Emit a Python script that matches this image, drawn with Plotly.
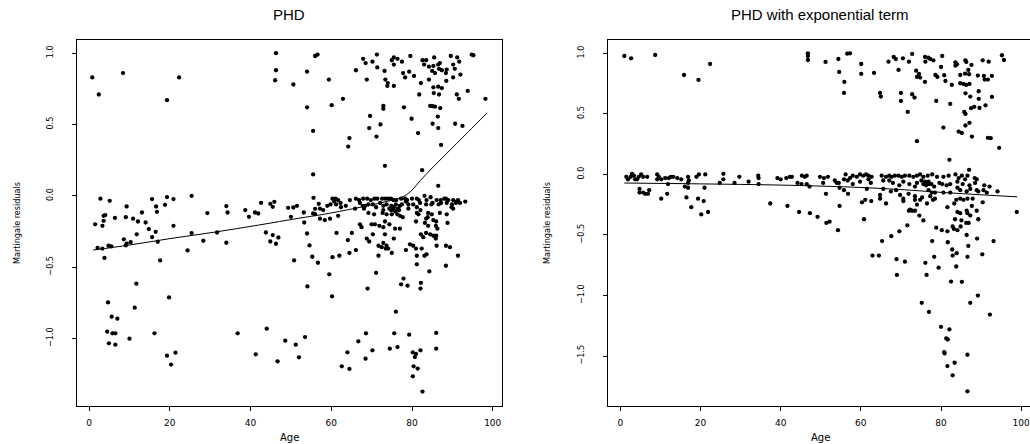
import plotly.graph_objects as go

# ---------------- Panel 1: PHD ----------------
phd_age = [
    # upper cloud
    0.8, 2.4, 8.4, 22.3, 19.3, 46.3, 46.3, 46.1, 50.6, 54.0, 56.0, 56.6, 54.0, 55.5, 55.5,
    71.3, 94.8, 95.2, 67.9, 75.5, 76.4, 75.0, 77.5, 79.6, 82.6, 83.5, 85.5, 89.6, 91.2,
    68.5, 70.2, 86.9, 75.5, 83.0, 84.2, 85.3, 86.5, 91.7, 90.2, 71.4, 73.2, 66.1, 85.0,
    85.7, 86.7, 87.4, 88.6, 88.4, 90.6, 77.8, 79.3, 78.3, 80.5, 92.0, 90.2, 88.5, 59.4,
    68.8, 73.4, 74.0, 75.5, 73.9, 82.2, 84.2, 85.3, 86.5, 87.4, 81.8, 85.4, 86.7, 91.1,
    93.8, 91.6, 98.2, 62.9, 60.1, 72.9, 72.9, 78.0, 84.5, 85.1, 85.7, 87.0, 69.6, 79.9,
    86.4, 72.2, 69.4, 85.1, 86.5, 90.7, 92.5, 81.5, 64.5, 71.2, 64.2, 87.2, 73.3, 82.5, 86.5,
    # band, younger ages
    1.5, 2.1, 2.8, 3.3, 3.6, 4.0, 3.6, 3.3, 3.8, 4.8, 5.1, 5.5, 6.4, 8.6, 9.3, 9.1, 9.1,
    9.3, 10.3, 10.9, 11.8, 12.1, 13.1, 14.0, 14.8, 15.6, 15.6, 16.5, 16.6, 16.8, 17.0,
    17.6, 18.8, 19.3, 20.9, 20.9, 24.4, 25.4, 25.4, 28.3, 29.3, 31.7, 34.0, 34.3, 34.0,
    38.7, 39.6, 41.1, 41.9, 42.6, 43.8, 44.9, 45.9, 45.5, 44.9, 45.5, 46.3, 46.9, 49.3,
    50.0, 50.6, 51.5, 50.8, 53.3, 53.2, 54.0, 54.6, 55.3, 55.5, 55.6, 56.0, 56.0, 56.9, 56.7,
    # band, older ages
    60.3, 61.1, 61.7, 60.7, 62.3, 64.6, 66.1, 66.9, 67.9, 68.9, 69.8, 70.7, 71.4, 72.6,
    73.4, 74.1, 74.8, 75.4, 76.1, 77.3, 78.3, 78.8, 80.0, 81.2, 81.7, 83.1, 83.6, 84.6,
    86.1, 87.1, 88.0, 88.4, 89.0, 90.2, 91.0, 91.4, 93.2,
    57.2, 58.0, 59.0, 59.8, 61.2, 62.4, 63.6, 65.9, 67.1, 67.8, 68.4, 68.1, 69.2, 70.3,
    71.1, 72.1, 72.9, 73.7, 74.4, 74.9, 75.5, 76.0, 76.5, 77.0, 77.5, 78.5, 79.1, 80.3,
    81.2, 82.0, 83.5, 84.8, 85.1, 86.6, 87.2, 88.6, 89.9, 89.8, 90.2, 90.9, 91.9, 75.9,
    76.8, 75.5, 74.8, 72.9, 79.1, 82.1,
    57.2, 58.4, 59.7, 61.7, 69.2, 70.6, 72.7, 73.7, 75.0, 76.4, 77.0, 77.7, 81.2, 81.6,
    84.0, 84.9, 83.9, 83.5, 85.3, 86.0, 86.9, 88.6,
    67.1, 67.5, 70.0, 70.8, 71.9, 72.9, 73.3, 74.4, 75.8, 77.0, 81.0, 83.2, 84.0, 85.9,
    86.3, 88.8,
    61.3, 65.1, 68.8, 69.4, 70.3, 73.3, 75.5, 82.2, 82.8, 83.5, 84.5, 85.3, 85.9, 86.0,
    64.1, 66.1, 71.7, 72.5, 72.9, 73.7, 74.1, 73.5, 79.5, 80.3, 81.0, 82.4, 86.1, 88.4, 89.4,
    60.3, 62.0, 64.5, 71.7, 75.0, 78.5, 81.2, 83.1, 83.6, 91.4,
    81.2, 88.4, 59.5, 71.1, 84.3, 77.9, 77.3, 78.9, 82.2, 82.1, 69.0,
    # lower cloud
    60.2, 54.1, 76.0, 75.6, 79.3, 68.6, 66.7, 70.2, 74.5, 76.4, 80.2, 80.7, 81.0, 82.1,
    80.4, 81.4, 80.2, 82.6, 86.0, 86.0, 68.5, 64.0, 62.6, 64.5, 53.5, 51.2, 52.0, 48.6,
    46.7, 44.0, 41.3, 36.8, 21.4, 19.3, 20.3, 19.8, 16.2, 11.7, 11.3, 10.0, 4.7, 5.6,
    7.0, 4.5, 5.8, 6.5, 4.9, 6.5,
]
phd_res = [
    0.83, 0.71, 0.86, 0.83, 0.67, 1.0, 0.88, 0.81, 0.78, 0.87, 0.98, 0.99, 0.62, 0.455, 0.15,
    0.99, 0.99, 0.985, 0.96, 0.97, 0.96, 0.95, 0.94, 0.98, 0.95, 0.95, 0.97, 0.98, 0.97,
    0.93, 0.94, 0.93, 0.92, 0.92, 0.905, 0.91, 0.92, 0.94, 0.92, 0.90, 0.875, 0.88, 0.875,
    0.86, 0.89, 0.88, 0.885, 0.86, 0.89, 0.86, 0.87, 0.83, 0.84, 0.85, 0.83, 0.805, 0.815,
    0.815, 0.815, 0.79, 0.77, 0.77, 0.79, 0.815, 0.76, 0.765, 0.755, 0.71, 0.72, 0.71, 0.71,
    0.735, 0.68, 0.68, 0.68, 0.635, 0.63, 0.61, 0.62, 0.63, 0.628, 0.625, 0.615, 0.56, 0.54,
    0.555, 0.50, 0.475, 0.505, 0.475, 0.505, 0.49, 0.44, 0.405, 0.415, 0.345, 0.357, 0.21, 0.18, 0.07,
    -0.20, -0.365, -0.02, -0.21, -0.14, -0.135, -0.175, -0.37, -0.435, -0.35, -0.035, -0.355,
    -0.155, -0.305, -0.075, -0.15, -0.348, -0.336, -0.325, -0.16, -0.27, -0.18, -0.117,
    -0.187, -0.233, -0.023, -0.289, -0.252, -0.075, -0.112, -0.322, -0.453, -0.063, -0.009,
    -0.023, -0.21, -0.383, 0.0, -0.261, -0.315, -0.121, -0.257, -0.072, -0.117, -0.329,
    -0.10, -0.147, -0.117, -0.124, -0.049, -0.257, -0.056, -0.042, -0.077, -0.32, -0.275,
    -0.336, -0.292, -0.084, -0.147, -0.082, -0.07, -0.453, -0.187, -0.117, -0.264, -0.348,
    -0.427, -0.124, -0.014, -0.091, -0.128, -0.056, -0.469,
    -0.02, -0.02, -0.03, -0.04, -0.05, -0.03, -0.02, -0.03, -0.02, -0.02, -0.03, -0.02, -0.02,
    -0.02, -0.02, -0.02, -0.02, -0.03, -0.03, -0.02, -0.02, -0.03, -0.02, -0.02, -0.03, 0.0,
    -0.03, -0.01, -0.03, -0.03, -0.02, -0.02, -0.03, -0.03, -0.04, -0.03, -0.04,
    -0.09, -0.10, -0.07, -0.06, -0.06, -0.08, -0.07, -0.09, -0.05, -0.07, -0.07, -0.09,
    -0.06, -0.06, -0.08, -0.05, -0.07, -0.06, -0.09, -0.07, -0.08, -0.06, -0.09, -0.07,
    -0.06, -0.04, -0.06, -0.06, -0.08, -0.05, -0.06, -0.06, -0.05, -0.06, -0.05, -0.05,
    -0.06, -0.08, -0.09, -0.05, -0.05, -0.11, -0.10, -0.10, -0.10, -0.10, -0.09, -0.10,
    -0.16, -0.17, -0.16, -0.14, -0.12, -0.13, -0.12, -0.13, -0.13, -0.13, -0.14, -0.15,
    -0.12, -0.13, -0.12, -0.13, -0.15, -0.16, -0.17, -0.18, -0.12, -0.13,
    -0.20, -0.22, -0.20, -0.20, -0.21, -0.22, -0.18, -0.20, -0.23, -0.23, -0.18, -0.19,
    -0.21, -0.21, -0.23, -0.19,
    -0.26, -0.26, -0.30, -0.32, -0.27, -0.27, -0.30, -0.27, -0.29, -0.26, -0.27, -0.28,
    -0.30, -0.28,
    -0.31, -0.38, -0.35, -0.36, -0.33, -0.35, -0.37, -0.37, -0.34, -0.35, -0.37, -0.37,
    -0.35, -0.35, -0.36,
    -0.43, -0.42, -0.40, -0.42, -0.40, -0.38, -0.42, -0.42, -0.41, -0.42,
    -0.48, -0.49, -0.55, -0.54, -0.53, -0.58, -0.62, -0.63, -0.61, -0.65, -0.65,
    -0.705, -0.635, -0.812, -0.964, -0.973, -0.964, -1.02, -1.083, -1.071, -1.06, -1.097,
    -1.13, -1.108, -1.083, -1.195, -1.211, -1.265, -1.372, -0.961, -1.071, -1.141, -1.097,
    -1.195, -1.213, -0.99, -1.043, -1.132, -1.015, -1.16, -0.931, -1.111, -0.964, -1.099,
    -1.12, -1.183, -0.712, -0.964, -0.616, -0.784, -1.001, -0.747, -0.847, -0.861, -0.952,
    -0.964, -0.964, -1.034, -1.043,
]
phd_smooth_age = [1, 10, 20, 31, 42, 52, 58, 66, 74, 78, 80, 82, 85, 88, 91, 94, 98.5]
phd_smooth_res = [-0.38, -0.345, -0.30, -0.255, -0.205, -0.157, -0.13, -0.087, -0.038,
                  -0.003, 0.04, 0.105, 0.195, 0.28, 0.365, 0.45, 0.578]

# ---------------- Panel 2: PHD with exponential term ----------------
exp_age = [
    # upper cloud
    1.0, 2.7, 8.7, 15.9, 19.5, 22.4, 46.8, 46.8, 46.8, 51.2, 54.4, 54.6, 56.6, 57.3, 55.9,
    55.8, 60.1, 60.1, 63.3, 64.8, 65.0,
    66.9, 68.2, 68.7, 70.5, 72.0, 72.8, 69.4, 73.8, 74.5, 74.0, 74.8, 76.0, 76.0, 76.8,
    77.3, 78.1, 76.1, 80.3, 80.0, 78.6, 79.1, 80.8, 81.1, 82.7, 83.6, 84.0, 83.6, 86.1,
    86.3, 87.6, 84.8, 86.0, 87.0, 86.8, 84.8, 85.6, 86.3, 87.1, 89.2, 90.7, 92.7, 90.9,
    91.7, 90.4, 91.9, 95.2, 95.7, 89.4, 86.1, 87.3, 89.4, 92.7, 82.3, 78.8, 70.0, 70.0,
    72.8, 73.4, 71.7, 85.8, 86.1, 87.5, 88.3, 89.6, 91.1, 86.1, 87.1, 80.6, 84.4, 85.2,
    87.7, 91.7, 92.4, 94.5, 74.0, 82.1, 87.0,
    # band, younger ages
    1.5, 1.9, 2.6, 2.9, 3.4, 3.7, 4.2, 4.6, 5.2, 5.7, 6.7, 9.2, 9.6, 9.2, 10.2, 11.2, 12.1,
    12.6, 13.2, 14.2, 15.2, 16.9, 17.1, 19.0, 19.6, 21.2, 24.8, 25.7, 25.7, 28.5, 29.7,
    32.0, 34.4, 34.5, 34.5, 39.2, 40.0, 41.4, 42.3, 42.8, 44.2, 45.3, 46.0, 46.5, 45.2,
    46.5, 47.2, 49.8, 50.8, 51.8, 50.6, 53.5, 54.0, 54.5, 55.8, 56.2, 56.7, 11.9, 16.9,
    4.8, 4.8, 5.7, 6.2, 6.9, 7.2, 11.7, 10.2, 16.1, 16.9, 21.0, 16.5, 19.4, 20.8, 17.7,
    21.9, 20.2, 37.4, 41.7, 44.6, 47.3, 49.2, 51.4, 52.2, 54.3, 51.3, 54.7, 55.8, 56.8, 54.7,
    # band, older ages
    57.3, 58.0, 59.0, 59.8, 60.6, 61.3, 61.9, 62.7, 65.2, 66.3, 67.1, 67.7, 68.5, 69.4,
    70.2, 71.0, 72.1, 73.1, 74.0, 74.8, 75.6, 76.7, 77.8, 79.0, 80.6, 81.9, 83.6, 85.2,
    86.6, 88.4, 88.9, 84.4, 86.0,
    58.0, 59.8, 61.9, 62.5, 65.6, 67.1, 68.0, 69.6, 70.6, 72.1, 73.5, 74.0, 75.1, 75.6,
    76.1, 76.5, 76.9, 77.6, 78.3, 79.6, 80.3, 81.4, 82.3, 84.1, 85.4, 87.1, 88.5, 90.8,
    92.1, 90.6, 91.4, 87.3, 89.3, 84.1, 76.0, 76.6, 77.1, 76.3,
    61.5, 65.6, 67.5, 68.8, 64.8, 69.8, 70.6, 71.9, 73.5, 75.3, 76.9, 77.7, 77.3, 78.5,
    80.6, 82.3, 84.8, 86.4, 88.9, 94.1,
    60.3, 61.1, 62.6, 64.8, 66.3, 70.6, 73.5, 74.0, 74.8, 76.5, 78.0, 78.5, 83.8, 84.8,
    85.6, 83.3, 86.6, 87.9, 87.7, 90.4, 81.6,
    72.3, 72.8, 72.0, 73.5, 84.1, 84.8, 86.4, 86.6, 88.9, 98.9, 60.8, 74.6, 75.6, 83.5,
    85.1, 87.3, 89.3, 86.9, 86.3,
    71.6, 69.6, 78.8, 80.2, 81.6, 82.9, 83.2, 84.9, 84.1,
    67.6, 65.3, 77.8, 81.7, 86.4, 89.0, 93.1, 82.8, 83.9, 86.8, 90.3, 62.9, 64.5, 68.9,
    71.0, 76.1, 78.3, 82.9, 86.6, 79.4, 83.8,
    # lower cloud
    69.0, 76.4, 82.5, 85.2, 75.2, 77.0, 80.0, 82.1, 81.3, 81.7, 80.8, 80.9, 81.6, 83.4,
    82.9, 86.6, 86.6, 87.3, 89.2, 92.2,
]
exp_res = [
    0.978, 0.959, 0.986, 0.821, 0.780, 0.912, 1.0, 0.978, 0.945, 0.929, 0.953, 0.846, 0.997,
    1.0, 0.764, 0.673, 0.912, 0.83, 0.838, 0.673, 0.643,
    0.931, 0.97, 0.953, 0.959, 0.931, 0.995, 0.863, 0.857, 0.83, 0.805, 0.80, 0.764, 0.97,
    0.964, 0.953, 0.942, 0.931, 0.978, 0.887, 0.821, 0.805, 0.819, 0.772, 0.739, 0.926,
    0.909, 0.898, 0.942, 0.929, 0.904, 0.821, 0.832, 0.827, 0.863, 0.753, 0.747, 0.739,
    0.747, 0.816, 0.813, 0.813, 0.783, 0.783, 0.942, 0.931, 0.984, 0.945, 0.687, 0.67,
    0.643, 0.624, 0.640, 0.582, 0.607, 0.673, 0.607, 0.662, 0.635, 0.516, 0.516, 0.50,
    0.547, 0.558, 0.549, 0.571, 0.404, 0.426, 0.387, 0.354, 0.343, 0.313, 0.302, 0.299,
    0.22, 0.275, 0.121, 0.038,
    -0.02, -0.04, -0.02, 0.005, -0.01, -0.04, -0.04, -0.02, 0.0, -0.02, -0.02, 0.0, -0.02,
    -0.04, -0.04, -0.03, -0.03, -0.02, -0.02, -0.03, -0.04, -0.02, -0.05, -0.02, 0.0, 0.0,
    -0.07, 0.005, -0.04, -0.07, -0.02, -0.06, -0.01, -0.03, -0.08, -0.03, -0.04, -0.03,
    -0.02, -0.02, -0.07, -0.01, -0.02, -0.01, -0.08, -0.08, -0.10, -0.02, -0.03, -0.02,
    -0.07, -0.05, -0.07, -0.07, -0.04, 0.0, -0.05, -0.08, -0.07,
    -0.12, -0.15, -0.15, -0.16, -0.16, -0.13, -0.16, -0.20, -0.10, -0.11, -0.11, -0.19,
    -0.20, -0.22, -0.27, -0.31, -0.33, -0.24, -0.26, -0.31, -0.32, -0.35, -0.40, -0.39,
    -0.46, -0.16, -0.11, -0.13, -0.16, -0.26,
    -0.03, -0.01, -0.02, 0.0, -0.01, 0.0, -0.01, -0.02, -0.01, -0.02, -0.01, -0.02, -0.01,
    -0.01, -0.02, -0.01, -0.01, -0.02, -0.01, 0.0, -0.02, -0.01, 0.0, -0.02, -0.02, -0.01,
    0.0, -0.01, -0.01, -0.03, -0.04, -0.03, -0.04,
    -0.08, -0.06, -0.04, -0.07, -0.05, -0.05, -0.07, -0.09, -0.06, -0.08, -0.10, -0.07,
    -0.05, -0.08, -0.07, -0.08, -0.06, -0.08, -0.10, -0.07, -0.08, -0.09, -0.08, -0.06,
    -0.08, -0.09, -0.07, -0.09, -0.10, -0.13, -0.15, -0.12, -0.14, -0.11, -0.06, -0.07,
    -0.08, -0.09,
    -0.12, -0.12, -0.14, -0.13, -0.17, -0.17, -0.20, -0.16, -0.18, -0.19, -0.13, -0.15,
    -0.18, -0.15, -0.15, -0.15, -0.13, -0.14, -0.13, -0.14,
    -0.23, -0.21, -0.22, -0.20, -0.24, -0.22, -0.21, -0.25, -0.21, -0.24, -0.21, -0.20,
    -0.21, -0.20, -0.21, -0.24, -0.20, -0.20, -0.26, -0.23, -0.27,
    -0.29, -0.30, -0.30, -0.30, -0.31, -0.32, -0.30, -0.32, -0.30, -0.31, -0.37, -0.34,
    -0.38, -0.37, -0.38, -0.34, -0.37, -0.40, -0.40,
    -0.42, -0.47, -0.44, -0.46, -0.47, -0.43, -0.45, -0.43, -0.46,
    -0.51, -0.55, -0.55, -0.56, -0.50, -0.53, -0.55, -0.62, -0.65, -0.59, -0.66, -0.67,
    -0.67, -0.70, -0.72, -0.73, -0.68, -0.67, -0.68, -0.77, -0.76,
    -0.83, -0.83, -0.885, -0.887, -1.06, -1.135, -1.258, -1.28, -1.354, -1.363, -1.467,
    -1.478, -1.582, -1.555, -1.659, -1.489, -1.791, -1.06, -1.0, -1.157,
]
exp_smooth_age = [1, 20, 40, 58, 70, 80, 90, 99]
exp_smooth_res = [-0.071, -0.078, -0.088, -0.105, -0.125, -0.148, -0.168, -0.185]

panel_titles = ["PHD", "PHD with exponential term"]
x_title = "Age"
y_title = "Martingale residuals"
x_ticks = [0, 20, 40, 60, 80, 100]
y_ticks_1 = [-1.0, -0.5, 0.0, 0.5, 1.0]
y_ticks_2 = [-1.5, -1.0, -0.5, 0.0, 0.5, 1.0]

W, H = 1030, 444
dom1 = [77 / W, 502 / W]
dom2 = [608 / W, 1.0]
ydom = [(H - 406) / H, (H - 40) / H]

fig = go.Figure()
mk = dict(color="black", size=4.3, line=dict(width=0))
fig.add_trace(go.Scatter(x=phd_age, y=phd_res, mode="markers", marker=mk,
                         xaxis="x", yaxis="y", showlegend=False))
fig.add_trace(go.Scatter(x=phd_smooth_age, y=phd_smooth_res, mode="lines",
                         line=dict(color="black", width=1, shape="spline"),
                         xaxis="x", yaxis="y", showlegend=False))
fig.add_trace(go.Scatter(x=exp_age, y=exp_res, mode="markers", marker=mk,
                         xaxis="x2", yaxis="y2", showlegend=False))
fig.add_trace(go.Scatter(x=exp_smooth_age, y=exp_smooth_res, mode="lines",
                         line=dict(color="black", width=1, shape="spline"),
                         xaxis="x2", yaxis="y2", showlegend=False))

wide_font = "DejaVu Sans, Verdana, sans-serif"
title_family = "Liberation Sans, Arial, sans-serif"
narrow_font = "Liberation Sans Narrow, DejaVu Sans Condensed, Liberation Sans, sans-serif"
tickfont_x = dict(family=wide_font, size=9, color="black")
tickfont_y = dict(family=narrow_font, size=9, color="black")

xcommon = dict(tickmode="array", tickvals=x_ticks, ticks="outside", ticklen=4,
               tickcolor="black", tickwidth=1, showgrid=False, zeroline=False,
               showline=True, linecolor="black", linewidth=1, mirror=True,
               tickfont=tickfont_x, ticklabelstandoff=4, ticklabeloverflow="allow")
ycommon = dict(ticks="outside", ticklen=4, tickcolor="black", tickwidth=1,
               showgrid=False, zeroline=False, showline=True, linecolor="black",
               linewidth=1, tickangle=-90, tickformat=".1f", tickfont=tickfont_y,
               ticklabelstandoff=15)

fig.update_layout(
    width=W, height=H,
    margin=dict(l=0, r=0, t=0, b=0),
    paper_bgcolor="white", plot_bgcolor="white",
    xaxis=dict(domain=dom1, range=[-3.0, 102.3], anchor="y", **xcommon),
    yaxis=dict(domain=ydom, range=[-1.473, 1.092], anchor="x", mirror=True,
               tickvals=y_ticks_1, **ycommon),
    xaxis2=dict(domain=dom2, range=[-3.07, 102.2], anchor="y2", **xcommon),
    yaxis2=dict(domain=ydom, range=[-1.912, 1.110], anchor="x2", mirror=False,
                tickvals=y_ticks_2, **ycommon),
)

title_font = dict(family=title_family, size=15, color="black")
label_font = dict(family=narrow_font, size=9, color="black")
centers = [289, 820]
ylab_x = [17, 547]
for i in range(2):
    fig.add_annotation(text=panel_titles[i], x=centers[i] / W, y=(H - 15) / H,
                       xref="paper", yref="paper", showarrow=False, font=title_font,
                       xanchor="center", yanchor="middle")
    fig.add_annotation(text=x_title, x=centers[i] / W, y=(H - 437) / H,
                       xref="paper", yref="paper", showarrow=False,
                       font=dict(family=wide_font, size=10, color="black"),
                       xanchor="center", yanchor="middle")
    fig.add_annotation(text=y_title, x=ylab_x[i] / W, y=(H - 223) / H,
                       xref="paper", yref="paper", showarrow=False, font=label_font,
                       textangle=-90, xanchor="center", yanchor="middle")

fig.write_html("out.html", config={"displayModeBar": False},
               post_script="document.body.style.margin='0';document.body.style.overflow='hidden';")
